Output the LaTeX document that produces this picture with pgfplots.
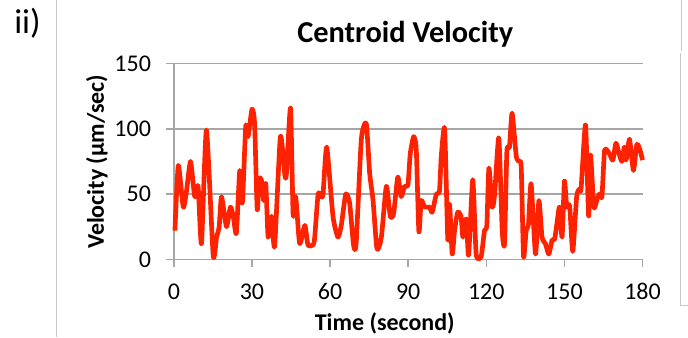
\documentclass[border=0pt]{standalone}
\usepackage{fontspec}
\setmainfont{Carlito}
\usepackage{pgfplots}
\pgfplotsset{compat=1.18}
\definecolor{linered}{RGB}{255,34,0}
\definecolor{gridgray}{RGB}{166,166,166}
\definecolor{framegray}{RGB}{200,200,200}
\begin{document}
\begin{tikzpicture}
\begin{scope}[x=0.75pt,y=0.75pt]
\path (0,0) rectangle (688,337);
% decorative frame lines
\draw[framegray,line width=0.75pt] (57,0) -- (57,337);
\draw[framegray,line width=0.75pt] (681.7,337) -- (681.7,286);
\draw[framegray,line width=0.75pt] (680.7,284) -- (680.7,32) -- (688,32);
\node[anchor=north west,inner sep=0pt,font=\fontsize{26}{26}\selectfont] at (14,330) {ii)};
\node[anchor=base,inner sep=0pt,font=\fontsize{22.8}{22.8}\selectfont\bfseries] at (405.5,295) {Centroid Velocity};
\node[anchor=base,inner sep=0pt,font=\fontsize{18}{18}\selectfont\bfseries] at (385,7) {Time (second)};
\node[rotate=90,inner sep=0pt,font=\fontsize{18}{18}\selectfont\bfseries] at (97,175.5) {Velocity (µm/sec)};
\end{scope}
\begin{axis}[
  at={(130.5pt,58.5pt)}, anchor=south west,
  scale only axis, width=351.75pt, height=147pt,
  xmin=0, xmax=180, ymin=0, ymax=150,
  xtick={0,30,...,180}, ytick={0,50,100,150},
  axis x line*=bottom, axis y line*=left,
  axis line style={gridgray,line width=1.2pt,-},
  tick style={gridgray,line width=1.2pt},
  tick align=outside, major tick length=6pt,
  ymajorgrids, major grid style={gridgray,line width=1.2pt},
  /pgf/number format/assume math mode=true,
  ticklabel style={font=\fontsize{18}{18}\selectfont, text=black},
  xticklabel style={inner sep=0pt, anchor=north, yshift=-12pt},
  yticklabel style={inner sep=0pt, anchor=east, xshift=-11pt},
  clip=false,
]
\addplot[linered, line width=3.5pt, line join=round, smooth, tension=0.35] coordinates {
(0.4,22) (1.7,72) (3.6,40) (4.9,53) (6.4,75) (8,48) (9.3,56) (10.6,12) (12.5,99)
(15.1,3) (16.4,17) (17.4,25) (18.3,48) (20.2,25) (21.7,40) (22.8,33) (24,20)
(25.3,68) (26.3,43) (27.6,102) (28.5,94) (30,115) (31,104) (32,38) (32.7,61)
(33.6,61) (34.5,45) (35.3,58) (36.2,17) (37.5,33) (38.7,10) (40.9,94) (42.6,65)
(43.2,65) (44.8,116) (45.8,34) (46.8,48) (48.3,12) (50.3,26) (51.5,11) (53.5,11)
(54.1,17) (55.4,50) (56.6,48) (57.3,50) (58.7,86) (61.1,33) (63,17) (64.3,26)
(66,50) (67.5,43) (69,11) (70,12) (72,92) (73.9,104) (75.2,66) (76.5,45) (78,8)
(79.7,17) (81.6,56) (83.1,33) (84.4,35) (86,63) (87.3,48) (88.6,56) (89.9,57)
(90.8,81) (92.1,94) (93.1,84) (94.1,21) (95,45) (96.3,40) (98.2,40) (99.2,36)
(100.8,50) (102,52) (102.7,79) (104,100) (105.2,15) (105.9,42) (106.9,4)
(107.8,22) (109,36) (110.3,33) (111,17) (112.3,31) (113.2,3) (114.8,61)
(116.1,4) (118,2) (119.3,22) (120.2,26) (121,70) (122.3,40) (123.2,50)
(124.8,93) (126.1,22) (127,12) (127.9,83) (128.9,86) (129.9,112) (131.5,79)
(132.5,75) (133.4,71) (134.3,2) (135.3,22) (136.2,27) (137.2,58) (138.9,4)
(140.2,45) (141.4,17) (142.7,12) (144,4) (145.3,15) (146.2,15) (147.1,27)
(148.1,40) (149.1,17) (150,60) (150.9,40) (152,41) (153.2,6) (154.7,48)
(155.8,54) (156.4,54) (158.1,103) (159.3,33) (160,80) (161.3,40) (162.4,45)
(163.4,50) (164.4,48) (165.4,83) (166.6,83) (167.5,80) (168.6,76) (169.8,89)
(171.1,80) (172.1,75) (173,86) (173.7,76) (175,92) (176.5,68) (177.8,88)
(179,84) (180,76)
};
\end{axis}
\end{tikzpicture}
\end{document}
